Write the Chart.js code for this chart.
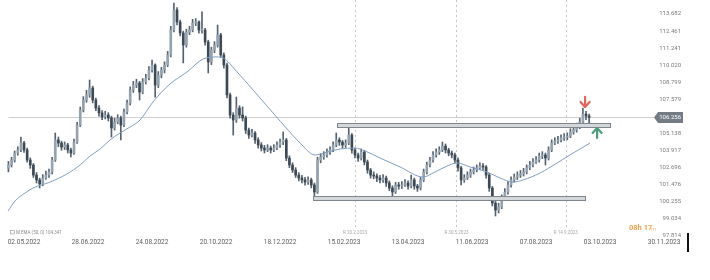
<!DOCTYPE html>
<html>
<head>
<meta charset="utf-8">
<script src="https://cdn.jsdelivr.net/npm/chart.js@4.4.0/dist/chart.umd.min.js"></script>
<style>
  html, body { margin: 0; padding: 0; background: #fff; }
</style>
</head>
<body>
<canvas id="chart" width="710" height="280"></canvas>
<script>
// daily candles, one every 2 bars, starting at bar -10
var firstBar = -10;
var barStep = 2;

var opens = [
  102.60, 102.84, 103.20, 103.70, 103.92, 104.42, 103.92, 103.20, 102.84, 102.12,
  101.77, 101.48, 101.91, 102.12, 102.34, 103.20, 104.64, 104.42, 104.13, 104.28,
  103.92, 103.70, 104.49, 105.71, 106.79, 107.51, 107.87, 108.37, 107.51, 106.93,
  106.58, 106.29, 106.43, 106.22, 105.50, 105.93, 106.22, 105.71, 106.65, 107.29,
  108.23, 108.58, 108.73, 108.08, 108.80, 109.09, 109.66, 110.02, 108.58, 109.30,
  109.66, 110.02, 110.74, 112.53, 113.97, 113.11, 112.32, 111.46, 112.39, 112.53,
  113.04, 113.11, 112.53, 112.53, 111.67, 110.24, 111.10, 111.46, 112.18, 110.74,
  110.02, 107.87, 106.43, 106.07, 106.93, 106.43, 106.22, 105.35, 104.99, 105.14,
  104.64, 104.28, 104.06, 103.92, 104.06, 103.92, 104.06, 104.28, 104.49, 104.64,
  103.34, 102.84, 102.48, 102.12, 101.91, 101.77, 101.62, 101.77, 101.41, 100.90,
  103.20, 103.42, 103.56, 103.77, 103.92, 104.28, 104.64, 104.49, 104.28, 104.42,
  104.99, 103.92, 103.56, 103.34, 103.77, 103.06, 102.48, 102.12, 102.05, 101.91,
  101.77, 101.91, 101.55, 101.19, 100.90, 101.41, 101.33, 101.41, 101.55, 101.33,
  101.77, 101.33, 101.19, 101.77, 102.34, 102.84, 103.20, 103.56, 103.77, 103.92,
  104.20, 103.92, 103.70, 103.56, 103.20, 102.63, 101.77, 101.91, 102.12, 102.34,
  102.48, 102.63, 102.77, 102.70, 102.12, 101.19, 100.11, 99.61, 99.83, 100.47,
  100.90, 101.41, 101.77, 101.98, 102.12, 102.20, 102.34, 102.63, 102.84, 103.06,
  103.20, 103.49, 103.56, 103.34, 103.92, 104.42, 104.56, 104.64, 104.78, 104.85,
  104.92, 105.21, 105.35, 105.57, 105.93, 106.50, 106.36
];
var highs = [
  103.10, 103.40, 103.85, 104.15, 104.85, 104.55, 104.05, 103.35, 102.95, 102.30,
  101.90, 102.15, 102.40, 102.55, 103.40, 105.14, 104.85, 104.55, 104.50, 104.40,
  104.05, 104.70, 105.90, 107.00, 107.75, 108.20, 108.94, 108.50, 107.65, 107.10,
  106.75, 106.70, 106.60, 106.35, 106.20, 106.45, 106.35, 106.85, 107.50, 108.45,
  108.85, 109.00, 108.85, 109.05, 109.35, 109.90, 110.38, 110.10, 109.55, 109.85,
  110.25, 111.00, 112.80, 114.47, 114.15, 113.25, 112.45, 112.60, 112.80, 113.30,
  113.35, 113.20, 113.83, 112.65, 111.80, 111.30, 111.70, 112.89, 112.30, 110.90,
  110.15, 108.00, 106.60, 107.72, 107.10, 107.01, 106.35, 105.50, 105.40, 105.25,
  104.80, 104.45, 104.25, 104.30, 104.20, 104.30, 104.50, 104.70, 105.21, 104.75,
  103.50, 103.00, 102.65, 102.30, 102.10, 101.95, 102.00, 101.90, 101.55, 103.40,
  103.65, 103.80, 104.00, 104.15, 104.50, 105.14, 104.80, 104.60, 104.65, 105.57,
  105.10, 104.05, 103.70, 104.00, 103.90, 103.20, 102.60, 102.35, 102.20, 102.10,
  102.15, 102.05, 101.70, 101.35, 101.60, 101.60, 101.65, 101.80, 101.70, 102.12,
  101.90, 101.45, 101.95, 102.55, 103.05, 103.40, 103.80, 104.00, 104.15, 104.49,
  104.35, 104.05, 103.85, 103.70, 103.35, 102.75, 102.15, 102.35, 102.55, 102.70,
  102.85, 103.00, 102.95, 102.80, 102.25, 101.30, 100.25, 100.10, 100.70, 101.15,
  101.65, 102.00, 102.20, 102.35, 102.45, 102.60, 102.85, 103.10, 103.30, 103.45,
  103.70, 103.80, 103.70, 104.15, 104.65, 104.80, 104.90, 105.00, 105.10, 105.15,
  105.45, 105.60, 105.85, 106.20, 106.93, 106.70, 106.50
];
var lows = [
  102.35, 102.70, 103.05, 103.55, 103.80, 103.75, 103.05, 102.60, 101.95, 101.55,
  101.19, 101.35, 101.80, 101.95, 102.20, 103.10, 104.15, 103.90, 103.95, 103.70,
  103.42, 103.60, 104.40, 105.60, 106.65, 107.35, 107.70, 107.30, 106.75, 106.35,
  106.10, 106.15, 106.00, 104.85, 105.35, 105.80, 104.64, 105.60, 106.50, 107.15,
  108.05, 108.40, 107.51, 107.95, 108.65, 108.95, 109.50, 107.72, 108.40, 109.10,
  109.45, 109.90, 110.60, 112.40, 112.90, 112.10, 110.17, 111.30, 112.20, 112.40,
  112.85, 112.30, 112.30, 111.45, 109.45, 110.05, 110.90, 111.30, 110.55, 109.80,
  107.65, 106.20, 104.99, 105.90, 106.20, 106.00, 105.10, 104.75, 104.85, 104.40,
  104.05, 103.85, 103.70, 103.80, 103.70, 103.80, 103.95, 104.10, 104.30, 103.15,
  102.65, 102.30, 101.95, 101.70, 101.55, 101.40, 101.45, 101.20, 100.62, 100.80,
  103.00, 103.25, 103.40, 103.60, 103.80, 104.15, 104.25, 104.05, 104.10, 104.30,
  103.70, 103.35, 103.10, 103.20, 102.85, 102.25, 101.90, 101.85, 101.65, 101.55,
  101.60, 101.30, 101.00, 100.54, 100.80, 101.10, 101.15, 101.30, 101.10, 101.20,
  101.10, 100.95, 101.05, 101.65, 102.20, 102.70, 103.05, 103.40, 103.60, 103.80,
  103.70, 103.50, 103.35, 103.00, 102.40, 101.41, 101.60, 101.80, 101.95, 102.20,
  102.35, 102.50, 102.45, 101.90, 100.95, 99.90, 99.18, 99.40, 99.70, 100.30,
  100.75, 101.25, 101.60, 101.80, 101.95, 102.05, 102.20, 102.50, 102.70, 102.95,
  103.05, 103.30, 102.84, 103.20, 103.80, 104.30, 104.40, 104.50, 104.60, 104.65,
  104.80, 105.05, 105.20, 105.45, 105.80, 106.10, 105.80
];
var closes = [
  102.84, 103.20, 103.70, 103.92, 104.42, 103.92, 103.20, 102.84, 102.12, 101.77,
  101.48, 101.91, 102.12, 102.34, 103.20, 104.64, 104.42, 104.13, 104.28, 103.92,
  103.70, 104.49, 105.71, 106.79, 107.51, 107.87, 108.37, 107.51, 106.93, 106.58,
  106.29, 106.43, 106.22, 105.50, 105.93, 106.22, 105.71, 106.65, 107.29, 108.23,
  108.58, 108.73, 108.08, 108.80, 109.09, 109.66, 110.02, 108.58, 109.30, 109.66,
  110.02, 110.74, 112.53, 113.97, 113.11, 112.32, 111.46, 112.39, 112.53, 113.04,
  113.11, 112.53, 112.53, 111.67, 110.24, 111.10, 111.46, 112.18, 110.74, 110.02,
  107.87, 106.43, 106.07, 106.93, 106.43, 106.22, 105.35, 104.99, 105.14, 104.64,
  104.28, 104.06, 103.92, 104.06, 103.92, 104.06, 104.28, 104.49, 104.64, 103.34,
  102.84, 102.48, 102.12, 101.91, 101.77, 101.62, 101.77, 101.41, 100.90, 103.20,
  103.42, 103.56, 103.77, 103.92, 104.28, 104.64, 104.49, 104.28, 104.42, 104.99,
  103.92, 103.56, 103.34, 103.77, 103.06, 102.48, 102.12, 102.05, 101.91, 101.77,
  101.91, 101.55, 101.19, 100.90, 101.41, 101.33, 101.41, 101.55, 101.33, 101.77,
  101.33, 101.19, 101.77, 102.34, 102.84, 103.20, 103.56, 103.77, 103.92, 104.20,
  103.92, 103.70, 103.56, 103.20, 102.63, 101.77, 101.91, 102.12, 102.34, 102.48,
  102.63, 102.77, 102.70, 102.12, 101.19, 100.11, 99.61, 99.83, 100.47, 100.90,
  101.41, 101.77, 101.98, 102.12, 102.20, 102.34, 102.63, 102.84, 103.06, 103.20,
  103.49, 103.56, 103.34, 103.92, 104.42, 104.56, 104.64, 104.78, 104.85, 104.92,
  105.21, 105.35, 105.57, 105.93, 106.50, 106.36, 106.26
];

// EMA (50)
var emaBars = [-10.2, -5.8, 0.6, 5.8, 16.7, 27.5, 35.9, 42.3, 48.7, 55.1, 61.5, 67.9, 74.3, 82.6,
  93.5, 104.4, 114.7, 123.6, 127.5, 136.5, 146.7, 159.5, 169.1, 176.8, 186.4, 194.1, 202.4, 212.0,
  218.4, 228.1, 240.9, 255.6, 263.3, 269.7, 277.4, 285.7, 296.6, 304.9, 313.3, 319.7, 330.6, 341.5,
  351.7, 362.6];
var emaValues = [99.54, 100.26, 100.83, 101.19, 101.62, 102.20, 102.84, 103.49, 103.99, 104.64,
  105.14, 105.57, 106.07, 107.37, 108.66, 109.52, 110.45, 110.60, 110.53, 109.52, 108.23, 106.58,
  105.35, 104.42, 103.56, 103.77, 103.99, 104.06, 103.85, 103.34, 102.70, 101.98, 102.34, 102.70,
  102.99, 102.70, 102.34, 101.91, 101.62, 101.77, 102.27, 102.99, 103.70, 104.42];

var dateTicks = [0, 41, 82, 123, 164, 205, 246, 287, 328, 369, 410];
var dateLabels = ["02.05.2022", "28.06.2022", "24.08.2022", "20.10.2022", "18.12.2022", "15.02.2023",
  "13.04.2023", "11.06.2023", "07.08.2023", "03.10.2023", "30.11.2023"];
var priceTicks = [97.814, 99.034, 100.255, 101.476, 102.696, 103.917, 105.138, 106.358, 107.579,
  108.799, 110.020, 111.241, 112.461, 113.682];
var lastPrice = 106.256;

// support / resistance zones
var zoneStart = [200.5, 185.1];
var zoneEnd = [375.4, 359.4];
var zoneLow = [105.57, 100.33];
var zoneHigh = [105.86, 100.62];

// dotted vertical markers
var markerBars = [212, 277, 347];
var markerLabels = ["R 20.2.2023", "R 30.5.2023", "R 14.9.2023"];

// signal arrows
var arrowBars = [359.4, 367.1];
var arrowPrices = [107.37, 105.14];
var arrowDirs = ["down", "up"];

var barX = function (i) { return firstBar + barStep * i; };
var isBull = function (i) { return closes[i] >= opens[i]; };

var wickData = closes.map(function (c, i) { return { x: barX(i), y: [lows[i], highs[i]] }; });
var bodyData = closes.map(function (c, i) { return { x: barX(i), y: [opens[i], c] }; });
var emaData = emaBars.map(function (b, i) { return { x: b, y: emaValues[i] }; });

var FONT = "Roboto, 'Noto Sans', sans-serif";

function drawArrow(ctx, cx, cy, dir, color) {
  var s = dir === "down" ? 1 : -1;
  ctx.save();
  ctx.strokeStyle = color;
  ctx.lineWidth = 2.2;
  ctx.lineCap = "round";
  ctx.lineJoin = "round";
  ctx.beginPath();
  ctx.moveTo(cx, cy - 5 * s);
  ctx.lineTo(cx, cy + 4.5 * s);
  ctx.moveTo(cx - 4.5, cy);
  ctx.lineTo(cx, cy + 5 * s);
  ctx.lineTo(cx + 4.5, cy);
  ctx.stroke();
  ctx.restore();
}

var overlay = {
  id: "overlay",
  beforeDatasetsDraw: function (chart) {
    var ctx = chart.ctx, x = chart.scales.x, y = chart.scales.y;
    ctx.save();
    ctx.strokeStyle = "#c6c6c6";
    ctx.lineWidth = 1;
    ctx.setLineDash([2, 3]);
    markerBars.forEach(function (b) {
      var px = Math.round(x.getPixelForValue(b)) + 0.5;
      ctx.beginPath();
      ctx.moveTo(px, 0);
      ctx.lineTo(px, 228);
      ctx.stroke();
    });
    ctx.setLineDash([]);
    var py = Math.round(y.getPixelForValue(lastPrice)) + 0.5;
    ctx.strokeStyle = "#cfcfcf";
    ctx.beginPath();
    ctx.moveTo(x.getPixelForValue(firstBar), py);
    ctx.lineTo(657, py);
    ctx.stroke();
    ctx.restore();
  },
  afterDatasetsDraw: function (chart) {
    var ctx = chart.ctx, x = chart.scales.x, y = chart.scales.y;
    ctx.save();
    // zones
    zoneStart.forEach(function (s, i) {
      var x0 = Math.round(x.getPixelForValue(s)) + 0.5;
      var x1 = Math.round(x.getPixelForValue(zoneEnd[i])) + 0.5;
      var y0 = Math.round(y.getPixelForValue(zoneHigh[i])) + 0.5;
      var y1 = Math.round(y.getPixelForValue(zoneLow[i])) + 0.5;
      ctx.fillStyle = "#d3d7da";
      ctx.fillRect(x0, y0, x1 - x0, y1 - y0);
      ctx.strokeStyle = "#7e878e";
      ctx.lineWidth = 1;
      ctx.strokeRect(x0, y0, x1 - x0, y1 - y0);
    });
    // arrows
    arrowBars.forEach(function (b, i) {
      drawArrow(ctx, x.getPixelForValue(b), y.getPixelForValue(arrowPrices[i]), arrowDirs[i],
        arrowDirs[i] === "down" ? "#e5645a" : "#4c9c7a");
    });
    // marker labels
    ctx.font = "4.5px " + FONT;
    ctx.fillStyle = "#a8a8a8";
    ctx.textAlign = "center";
    ctx.textBaseline = "middle";
    markerBars.forEach(function (b, i) {
      ctx.fillText(markerLabels[i], x.getPixelForValue(b), 233);
    });
    // last price tag
    var py = y.getPixelForValue(lastPrice);
    ctx.fillStyle = "#737c84";
    ctx.beginPath();
    ctx.moveTo(654, py);
    ctx.lineTo(658, py - 5.5);
    ctx.lineTo(683, py - 5.5);
    ctx.lineTo(683, py + 5.5);
    ctx.lineTo(658, py + 5.5);
    ctx.closePath();
    ctx.fill();
    ctx.fillStyle = "#ffffff";
    ctx.font = "6px " + FONT;
    ctx.textAlign = "right";
    ctx.fillText(lastPrice.toFixed(3), 681, py + 0.5);
    // indicator legend
    ctx.textAlign = "left";
    ctx.fillStyle = "#8c8c8c";
    ctx.font = "4.5px " + FONT;
    ctx.strokeStyle = "#9a9a9a";
    ctx.lineWidth = 0.6;
    ctx.strokeRect(10.5, 230.5, 4, 3.5);
    ctx.fillText("M EMA (50, 0) 104.341", 16, 232.5);
    // countdown
    ctx.font = "bold 7.5px " + FONT;
    ctx.fillStyle = "#f0a24c";
    ctx.fillText("08h 17", 629, 228.5);
    ctx.font = "6px " + FONT;
    ctx.fillStyle = "#f4c48f";
    ctx.fillText("m", 651, 229);
    // cursor mark
    ctx.fillStyle = "#111111";
    ctx.fillRect(687, 233, 2, 19);
    ctx.restore();
  }
};

var ctx = document.getElementById("chart").getContext("2d");

var chart = new Chart(ctx, {
  type: "bar",
  data: {
    datasets: [
      {
        type: "line",
        data: emaData,
        borderColor: "#7f9ec2",
        borderWidth: 1,
        pointRadius: 0,
        cubicInterpolationMode: "monotone",
        order: 0
      },
      {
        data: bodyData,
        backgroundColor: function (c) { return isBull(c.dataIndex) ? "#95a3af" : "#3d4a56"; },
        barThickness: 2,
        minBarLength: 1,
        grouped: false,
        order: 1
      },
      {
        data: wickData,
        backgroundColor: "#56636f",
        barThickness: 1,
        grouped: false,
        order: 2
      }
    ]
  },
  options: {
    responsive: false,
    animation: false,
    layout: { padding: { left: 0, right: 0, top: 0, bottom: 30 } },
    plugins: { legend: { display: false }, tooltip: { enabled: false } },
    scales: {
      x: {
        type: "linear",
        min: -15.4,
        max: 420.2,
        offset: false,
        grid: { display: false, drawTicks: false },
        border: { display: false },
        afterBuildTicks: function (s) {
          s.ticks = dateTicks.map(function (v) { return { value: v }; });
        },
        afterFit: function (s) {
          s.height = 14;
          s.paddingLeft = 0;
          s.paddingRight = 0;
        },
        ticks: {
          autoSkip: false,
          maxRotation: 0,
          padding: 2,
          color: "#5c5c5c",
          font: { family: FONT, size: 6.5 },
          callback: function (v) { return dateLabels[dateTicks.indexOf(v)]; }
        }
      },
      y: {
        position: "right",
        min: 97.745,
        max: 114.687,
        grid: { display: false, drawTicks: false },
        border: { display: false },
        afterBuildTicks: function (s) {
          s.ticks = priceTicks.map(function (v) { return { value: v }; });
        },
        afterFit: function (s) {
          s.width = 30;
          s.paddingTop = 0;
          s.paddingBottom = 0;
        },
        ticks: {
          mirror: true,
          padding: 1,
          color: "#7a7a7a",
          font: { family: FONT, size: 6 },
          callback: function (v) { return v.toFixed(3); }
        }
      }
    }
  },
  plugins: [overlay]
});
</script>
</body>
</html>
